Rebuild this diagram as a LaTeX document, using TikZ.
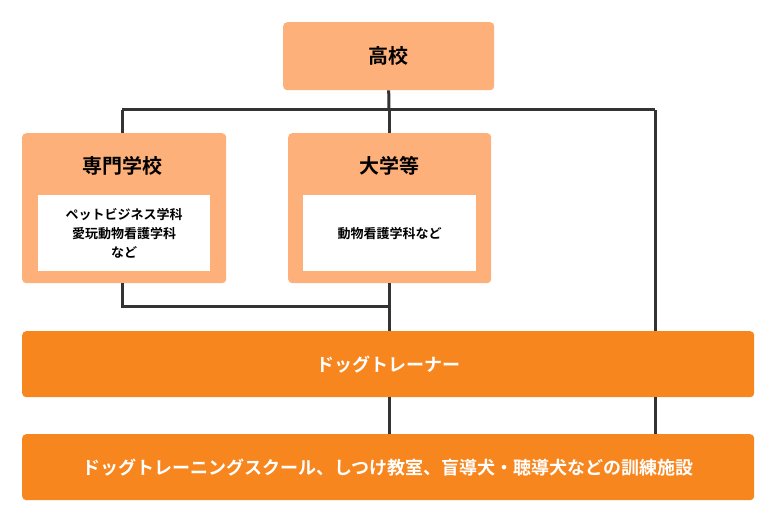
\documentclass[tikz,border=0pt]{standalone}
\usepackage{fontspec}
\setmainfont{Noto Sans CJK JP}[BoldFont={* Bold}]
\definecolor{lightorg}{HTML}{FDB07A}
\definecolor{darkorg}{HTML}{F7861F}
\definecolor{linegray}{HTML}{333333}
\tikzset{
  box/.style={fill=lightorg, rounded corners=4pt, anchor=north west, inner sep=0pt},
  bar/.style={fill=darkorg, rounded corners=4pt, anchor=north west, inner sep=0pt,
    minimum width=732pt, minimum height=66pt, text=white, font=\bfseries\fontsize{18}{20}\selectfont},
  inner/.style={fill=white, anchor=north west, inner sep=0pt, minimum width=172pt,
    minimum height=76pt, align=center, font=\bfseries\fontsize{13}{19}\selectfont},
  conn/.style={draw=linegray, line width=3pt}
}
\begin{document}
\begin{tikzpicture}[x=1pt,y=-1pt]
  \useasboundingbox (0,0) rectangle (777,524);
  % connectors first
  \coordinate (top) at (389,110);
  \coordinate (left) at (122,110);
  \coordinate (right) at (655,110);
  \coordinate (join) at (122,306);
  \coordinate (mid) at (389,306);
  \node[box, minimum width=211pt, minimum height=68pt] (koko) at (283,22) {};
  \node[font=\bfseries\fontsize{20}{22}\selectfont] at (koko.center) {高校};
  \node[box, minimum width=204pt, minimum height=150pt] (senmon) at (22,133) {};
  \node[box, minimum width=203pt, minimum height=150pt] (daigaku) at (288,133) {};
  \node[font=\bfseries\fontsize{20}{22}\selectfont] at (122,166) {専門学校};
  \node[font=\bfseries\fontsize{20}{22}\selectfont] at (389,166) {大学等};
  \node[inner] (sbox) at (38,195) {ペットビジネス学科\\愛玩動物看護学科\\など};
  \node[inner, minimum width=173pt] (dbox) at (303,195) {動物看護学科など};
  \node[bar] (trainer) at (22,331) {ドッグトレーナー};
  \node[bar] (school) at (22,434) {ドッグトレーニングスクール、しつけ教室、盲導犬・聴導犬などの訓練施設};
  \draw[conn] (koko.south) -- (top);
  \draw[conn] (left) -- (right);
  \draw[conn] (left) -- (senmon.north -| left);
  \draw[conn] (top) -- (daigaku.north -| top);
  \draw[conn] (right) -- (trainer.north -| right);
  \draw[conn] (senmon.south -| join) -- (join) -- (mid);
  \draw[conn] (daigaku.south -| mid) -- (trainer.north -| mid);
  \draw[conn] (trainer.south -| mid) -- (school.north -| mid);
  \draw[conn] (trainer.south -| right) -- (school.north -| right);
\end{tikzpicture}
\end{document}
